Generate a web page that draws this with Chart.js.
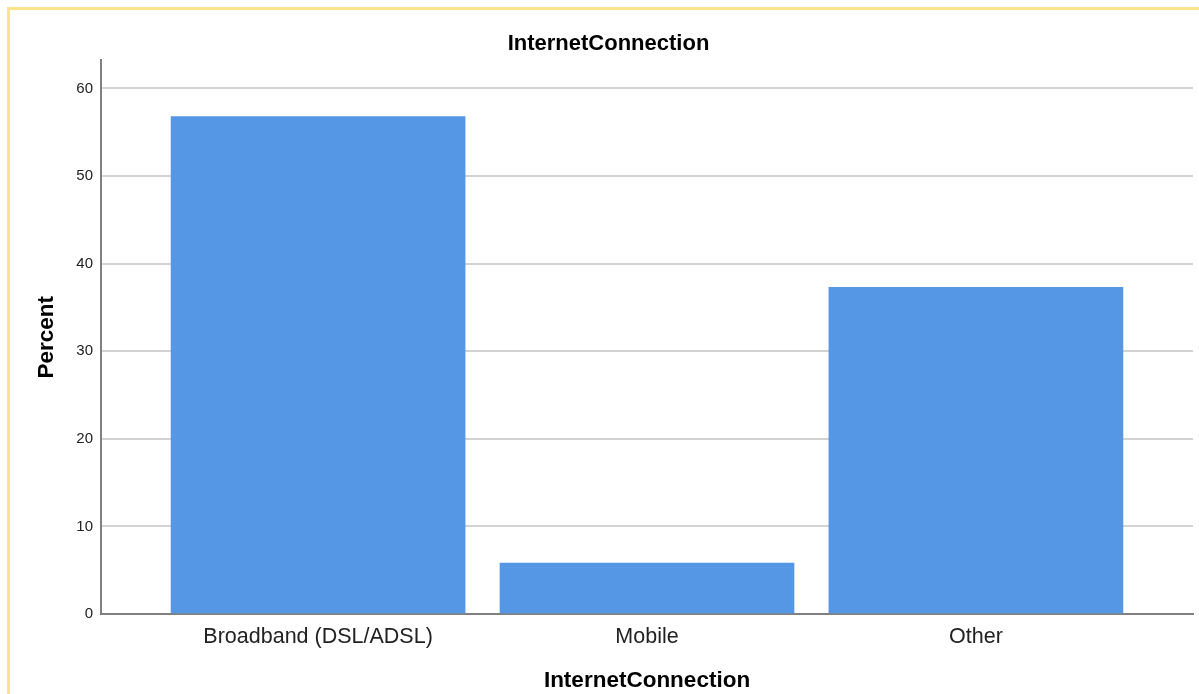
<!DOCTYPE html>
<html>
<head>
<meta charset="utf-8">
<script src="https://cdn.jsdelivr.net/npm/chart.js@4/dist/chart.umd.min.js"></script>
<style>
  body { margin:0; background:#fff; overflow:hidden; }
  #wrap { position:relative; width:1199px; height:694px; }
  #frame { position:absolute; left:7px; top:7px; width:1300px; height:1000px; border:3px solid #fbe48c; pointer-events:none; }
</style>
</head>
<body>
<div id="wrap">
  <canvas id="myChart" width="1199" height="694"></canvas>
  <div id="frame"></div>
</div>
<script>
var categories = ["Broadband (DSL/ADSL)", "Mobile", "Other"]
var percent = [56.8, 5.8, 37.3]
var yTicks = [0, 10, 20, 30, 40, 50, 60]

var font = "'Liberation Sans', Arial, sans-serif"
var points = percent.map(function(v, i){ return {x: i, y: v} })

var ctx = document.getElementById("myChart").getContext('2d')
var chart = new Chart(ctx, {
    type: 'bar',
    data: {
        datasets: [{
            label: "Percent",
            data: points,
            backgroundColor: "#5596e5",
            barThickness: 294
        }]
    },
    options: {
        responsive: false,
        animation: false,
        layout: { padding: { left: 24, right: 6, top: 0, bottom: 0 } },
        plugins: {
            legend: { display: false },
            tooltip: { enabled: false },
            title: {
                display: true,
                text: "InternetConnection",
                color: "#000",
                font: { family: font, size: 22, weight: 'bold' },
                padding: { top: 31, bottom: 3 }
            }
        },
        scales: {
            x: {
                type: 'linear',
                offset: false,
                min: -0.66,
                max: 2.66,
                afterBuildTicks: function(scale){
                    scale.ticks = categories.map(function(c, i){ return {value: i} })
                },
                afterFit: function(scale){ scale.height = 80 },
                ticks: {
                    color: "#222",
                    font: { family: font, size: 21.5 },
                    padding: 10,
                    maxRotation: 0,
                    callback: function(v){ return categories[v] }
                },
                grid: { display: false, drawTicks: false },
                border: { display: true, color: "#808080", width: 2 },
                title: {
                    display: true,
                    text: "InternetConnection",
                    color: "#000",
                    font: { family: font, size: 22.5, weight: 'bold' },
                    padding: 0
                }
            },
            y: {
                min: 0,
                max: 63.2,
                afterBuildTicks: function(scale){
                    scale.ticks = yTicks.map(function(v){ return {value: v} })
                },
                afterFit: function(scale){ scale.width = 77 },
                ticks: {
                    color: "#222",
                    font: { family: font, size: 15 },
                    padding: 8
                },
                grid: {
                    drawTicks: false,
                    lineWidth: 2,
                    color: function(c){ return c.tick && c.tick.value === 0 ? 'rgba(0,0,0,0)' : '#d3d3d3' }
                },
                border: { display: true, color: "#808080", width: 2 },
                title: {
                    display: true,
                    text: "Percent",
                    color: "#000",
                    font: { family: font, size: 22.5, weight: 'bold' },
                    padding: { top: 9, bottom: 0 }
                }
            }
        }
    }
})
</script>
</body>
</html>
